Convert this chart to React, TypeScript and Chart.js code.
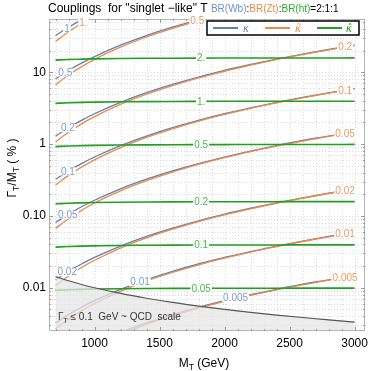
import React, { useEffect, useRef } from 'react';
import { Chart, registerables } from 'chart.js';

Chart.register(...registerables);

const FONT = "'Liberation Sans', Arial, sans-serif";

// ---------------- data ----------------
const masses = [700, 800, 900, 1000, 1200, 1400, 1600, 1800, 2000, 2200, 2400, 2600, 2800, 3000];

// Blue curves: kappa  (Gamma/M in %)
const blueK1 = [32.3, 42.2, 53.5, 66.0];
const blueK05 = [8.09, 10.6, 13.4, 16.5, 23.8, 32.4, 42.3, 53.5, 66.0];
const blueK02 = [1.29, 1.69, 2.14, 2.64, 3.8, 5.18, 6.76, 8.55, 10.6, 12.8, 15.2, 17.8, 20.7, 23.8];
const blueK01 = [0.323, 0.422, 0.535, 0.66, 0.95, 1.29, 1.69, 2.14, 2.64, 3.19, 3.8, 4.46, 5.17, 5.94];
const blueK005 = [0.0809, 0.106, 0.134, 0.165, 0.238, 0.324, 0.423, 0.535, 0.66, 0.799, 0.951, 1.12, 1.29, 1.49];
const blueK002 = [0.0129, 0.0169, 0.0214, 0.0264, 0.038, 0.0518, 0.0676, 0.0855, 0.106, 0.128, 0.152, 0.178, 0.207, 0.238];
const blueK001 = [0.00323, 0.00422, 0.00535, 0.0066, 0.0095, 0.0129, 0.0169, 0.0214, 0.0264, 0.0319, 0.038, 0.0446, 0.0517, 0.0594];
const blueK0005 = [0.000809, 0.00106, 0.00134, 0.00165, 0.00238, 0.00324, 0.00423, 0.00535, 0.0066, 0.00799, 0.00951, 0.0112, 0.0129, 0.0149];

// Orange curves: kappa-tilde
const orangeK1 = [26.8, 36.6, 47.7, 60.3];
const orangeK05 = [6.69, 9.15, 11.9, 15.1, 22.3, 30.9, 40.8, 52.0, 64.6];
const orangeK02 = [1.07, 1.46, 1.91, 2.41, 3.57, 4.94, 6.52, 8.32, 10.3, 12.5, 15.0, 17.6, 20.5, 23.5];
const orangeK01 = [0.268, 0.366, 0.477, 0.603, 0.892, 1.24, 1.63, 2.08, 2.58, 3.14, 3.74, 4.4, 5.12, 5.88];
const orangeK005 = [0.0669, 0.0915, 0.119, 0.151, 0.223, 0.309, 0.408, 0.52, 0.646, 0.784, 0.935, 1.1, 1.28, 1.47];
const orangeK002 = [0.0107, 0.0146, 0.0191, 0.0241, 0.0357, 0.0494, 0.0652, 0.0832, 0.103, 0.125, 0.15, 0.176, 0.205, 0.235];
const orangeK001 = [0.00268, 0.00366, 0.00477, 0.00603, 0.00892, 0.0124, 0.0163, 0.0208, 0.0258, 0.0314, 0.0374, 0.044, 0.0512, 0.0588];
const orangeK0005 = [0.000669, 0.000915, 0.00119, 0.00151, 0.00223, 0.00309, 0.00408, 0.0052, 0.00646, 0.00784, 0.00935, 0.011, 0.0128, 0.0147];

// Green curves: kappa-hat
const greenK2 = [14.73, 15.02, 15.2, 15.34, 15.5, 15.6, 15.66, 15.7, 15.73, 15.75, 15.77, 15.78, 15.79, 15.8];
const greenK1 = [3.683, 3.754, 3.801, 3.834, 3.875, 3.899, 3.915, 3.925, 3.933, 3.938, 3.942, 3.946, 3.948, 3.95];
const greenK05 = [0.921, 0.939, 0.95, 0.959, 0.969, 0.975, 0.979, 0.981, 0.983, 0.985, 0.986, 0.987, 0.987, 0.988];
const greenK02 = [0.1473, 0.1502, 0.152, 0.1534, 0.155, 0.156, 0.1566, 0.157, 0.1573, 0.1575, 0.1577, 0.1578, 0.1579, 0.158];
const greenK01 = [0.0368, 0.0375, 0.038, 0.0383, 0.0388, 0.039, 0.0392, 0.0393, 0.0393, 0.0394, 0.0394, 0.0395, 0.0395, 0.0395];
const greenK005 = [0.00921, 0.00939, 0.0095, 0.00959, 0.00969, 0.00975, 0.00979, 0.00981, 0.00983, 0.00985, 0.00986, 0.00987, 0.00987, 0.00988];

// Gamma_T = 0.1 GeV boundary
const qcdLine = [0.0143, 0.0125, 0.0111, 0.01, 0.00833, 0.00714, 0.00625, 0.00556, 0.005, 0.00455, 0.00417, 0.00385, 0.00357, 0.00333];

const blueSeries = [blueK1, blueK05, blueK02, blueK01, blueK005, blueK002, blueK001, blueK0005];
const orangeSeries = [orangeK1, orangeK05, orangeK02, orangeK01, orangeK005, orangeK002, orangeK001, orangeK0005];
const greenSeries = [greenK2, greenK1, greenK05, greenK02, greenK01, greenK005];

const blueLabels = ['1', '0.5', '0.2', '0.1', '0.05', '0.02', '0.01', '0.005'];
const blueLabelMass = [788, 775, 795, 795, 795, 790, 1350, 2085];
const orangeLabels = ['1.', '0.5', '0.2', '0.1', '0.05', '0.02', '0.01', '0.005'];
const orangeLabelMass = [915, 1790, 2927, 2927, 2927, 2927, 2927, 2927];
const greenLabels = ['2.', '1.', '0.5', '0.2', '0.1', '0.05'];
const greenLabelMass = [1820, 1820, 1820, 1820, 1820, 1820];

const xTickValues = [1000, 1500, 2000, 2500, 3000];
const xTickLabels = ['1000', '1500', '2000', '2500', '3000'];
const yTickValues = [0.01, 0.1, 1, 10];
const yTickLabels = ['0.01', '0.10', '1', '10'];

// ---------------- style ----------------
const BLUE = '#5E81B5';
const ORANGE = '#EC8A48';
const GREEN = '#1FA01F';
const BLUE_TXT = '#7A9DD0';
const ORANGE_TXT = '#F0995E';
const GREEN_TXT = '#4DB84D';

function interpLog(series: number[], m: number): number {
  for (let i = 0; i < series.length - 1; i++) {
    const m0 = masses[i], m1 = masses[i + 1];
    if (m >= m0 && m <= m1) {
      const t = (m - m0) / (m1 - m0);
      return Math.exp(Math.log(series[i]) * (1 - t) + Math.log(series[i + 1]) * t);
    }
  }
  return series[series.length - 1];
}

type Seg = { t: string; size: number; dy?: number; color?: string; style?: string; family?: string };

function setFont(ctx: CanvasRenderingContext2D, s: Seg) {
  ctx.font = `${s.style || ''} ${s.size}px ${s.family || FONT}`;
}
function richWidth(ctx: CanvasRenderingContext2D, segs: Seg[]) {
  let w = 0;
  for (const s of segs) { setFont(ctx, s); w += ctx.measureText(s.t).width; }
  return w;
}
function drawRich(ctx: CanvasRenderingContext2D, segs: Seg[], x: number, y: number, align: 'left' | 'center' = 'left') {
  let cx = align === 'center' ? x - richWidth(ctx, segs) / 2 : x;
  ctx.textAlign = 'left';
  ctx.textBaseline = 'alphabetic';
  for (const s of segs) {
    setFont(ctx, s);
    ctx.fillStyle = s.color || '#000';
    ctx.fillText(s.t, cx, y + (s.dy || 0));
    cx += ctx.measureText(s.t).width;
  }
}

const decorPlugin = {
  id: 'decor',
  beforeDatasetsDraw(chart: any) {
    const { ctx, chartArea: a, scales } = chart;
    const x = scales.x, y = scales.y;
    ctx.save();
    ctx.strokeStyle = '#dcdcdc';
    ctx.lineWidth = 1;
    ctx.setLineDash([1, 2]);
    for (let m = 700; m <= 3000; m += 100) {
      const px = Math.round(x.getPixelForValue(m)) + 0.5;
      ctx.beginPath(); ctx.moveTo(px, a.top); ctx.lineTo(px, a.bottom); ctx.stroke();
    }
    for (let e = -3; e <= 1; e++) {
      for (let k = 1; k <= 9; k++) {
        const v = k * Math.pow(10, e);
        if (v < 0.0025 || v > 55) continue;
        const py = Math.round(y.getPixelForValue(v)) + 0.5;
        ctx.beginPath(); ctx.moveTo(a.left, py); ctx.lineTo(a.right, py); ctx.stroke();
      }
    }
    ctx.restore();
  },
  afterDatasetsDraw(chart: any) {
    const { ctx, chartArea: a, scales } = chart;
    const x = scales.x, y = scales.y;
    ctx.save();

    // frame
    ctx.setLineDash([]);
    ctx.strokeStyle = '#b4b4b4';
    ctx.lineWidth = 1;
    ctx.strokeRect(a.left + 0.5, a.top + 0.5, a.right - a.left - 1, a.bottom - a.top - 1);
    // ticks
    ctx.strokeStyle = '#9a9a9a';
    for (let m = 700; m <= 3000; m += 100) {
      const px = Math.round(x.getPixelForValue(m)) + 0.5;
      const len = m % 500 === 0 ? 4 : 2;
      ctx.beginPath(); ctx.moveTo(px, a.bottom); ctx.lineTo(px, a.bottom - len); ctx.stroke();
      ctx.beginPath(); ctx.moveTo(px, a.top); ctx.lineTo(px, a.top + len); ctx.stroke();
    }
    for (let e = -3; e <= 1; e++) {
      for (let k = 1; k <= 9; k++) {
        const v = k * Math.pow(10, e);
        if (v < 0.0025 || v > 55) continue;
        const py = Math.round(y.getPixelForValue(v)) + 0.5;
        const len = k === 1 ? 4 : 2;
        ctx.beginPath(); ctx.moveTo(a.left, py); ctx.lineTo(a.left + len, py); ctx.stroke();
        ctx.beginPath(); ctx.moveTo(a.right, py); ctx.lineTo(a.right - len, py); ctx.stroke();
      }
    }

    // curve labels
    const drawLabel = (txt: string, m: number, v: number, color: string) => {
      const px = x.getPixelForValue(m);
      const py = y.getPixelForValue(v);
      ctx.font = `10px ${FONT}`;
      const w = ctx.measureText(txt).width;
      ctx.fillStyle = '#fff';
      ctx.fillRect(px - w / 2 - 1, py - 4, w + 2, 8);
      ctx.fillStyle = color;
      ctx.textAlign = 'center';
      ctx.textBaseline = 'middle';
      ctx.fillText(txt, px, py + 0.5);
    };
    blueLabels.forEach((t, i) => drawLabel(t, blueLabelMass[i], interpLog(blueSeries[i], blueLabelMass[i]), BLUE_TXT));
    orangeLabels.forEach((t, i) => drawLabel(t, orangeLabelMass[i], interpLog(orangeSeries[i], orangeLabelMass[i]), ORANGE_TXT));
    greenLabels.forEach((t, i) => drawLabel(t, greenLabelMass[i], interpLog(greenSeries[i], greenLabelMass[i]), GREEN_TXT));

    // shaded region label
    drawRich(ctx, [
      { t: 'Γ', size: 10, color: '#333' },
      { t: 'T', size: 7, dy: 2.5, color: '#333' },
      { t: ' ≤ 0.1  GeV ~ QCD  scale', size: 10, color: '#333' },
    ], 58, 320);

    // legend
    ctx.fillStyle = '#fff';
    ctx.fillRect(207, 21, 152, 14);
    ctx.strokeStyle = '#000';
    ctx.lineWidth = 1.5;
    ctx.strokeRect(207, 21, 152, 14);
    const legendItems = [
      { c: BLUE, x0: 213, sym: 'κ', sx: 243 },
      { c: ORANGE, x0: 265, sym: 'κ\u0303', sx: 295 },
      { c: GREEN, x0: 317, sym: 'κ\u0302', sx: 346 },
    ];
    for (const it of legendItems) {
      ctx.strokeStyle = it.c;
      ctx.lineWidth = 2;
      ctx.beginPath(); ctx.moveTo(it.x0, 28); ctx.lineTo(it.x0 + 25, 28); ctx.stroke();
      ctx.fillStyle = it.c;
      ctx.font = `italic 10px 'DejaVu Sans'`;
      ctx.textAlign = 'left';
      ctx.textBaseline = 'alphabetic';
      ctx.fillText(it.sym, it.sx, 31.5);
    }

    // title
    const tSegs: Seg[] = [
      { t: 'Couplings  for "singlet −like" T ', size: 12 },
      { t: 'BR(Wb)', size: 10, color: '#6F93CC' },
      { t: ':', size: 10 },
      { t: 'BR(Zt)', size: 10, color: '#EE8A48' },
      { t: ':', size: 10 },
      { t: 'BR(ht)', size: 10, color: '#33AA33' },
      { t: '=2:1:1', size: 10 },
    ];
    drawRich(ctx, tSegs, 48, 12);

    // x title
    drawRich(ctx, [
      { t: 'M', size: 12 },
      { t: 'T', size: 8.5, dy: 3 },
      { t: ' (GeV)', size: 12 },
    ], 204, 367, 'center');

    // y title
    ctx.translate(16, 168);
    ctx.rotate(-Math.PI / 2);
    drawRich(ctx, [
      { t: 'Γ', size: 12 },
      { t: 'T', size: 8.5, dy: 3 },
      { t: '/M', size: 12 },
      { t: 'T', size: 8.5, dy: 3 },
      { t: ' ( % )', size: 12 },
    ], 0, 0, 'center');

    ctx.restore();
  },
};

function mkLine(ys: number[], color: string, width: number) {
  return {
    data: ys.map((v, i) => ({ x: masses[i], y: v })),
    borderColor: color,
    backgroundColor: color,
    borderWidth: width,
    pointRadius: 0,
    fill: false,
    cubicInterpolationMode: 'monotone',
  };
}

export default function App() {
  const ref = useRef<HTMLCanvasElement | null>(null);
  useEffect(() => {
    if (!ref.current) return;
    const shade = {
      data: qcdLine.map((v, i) => ({ x: masses[i], y: v })),
      borderColor: '#555',
      borderWidth: 1.2,
      backgroundColor: 'rgba(230,230,230,0.75)',
      pointRadius: 0,
      fill: 'start',
      cubicInterpolationMode: 'monotone',
    };
    const datasets: any[] = [
      shade,
      ...greenSeries.map((s) => mkLine(s, GREEN, 1.6)),
      ...orangeSeries.map((s) => mkLine(s, ORANGE, 1.3)),
      ...blueSeries.map((s) => mkLine(s, BLUE, 1.3)),
    ];
    const chart = new Chart(ref.current, {
      type: 'line',
      data: { datasets },
      options: {
        responsive: false,
        devicePixelRatio: 1,
        animation: false,
        events: [],
        layout: { padding: { top: 19, right: 9, left: 0, bottom: 0 } },
        plugins: { legend: { display: false }, title: { display: false }, tooltip: { enabled: false } },
        scales: {
          x: {
            type: 'linear',
            min: 650,
            max: 3080,
            grid: { display: false, drawTicks: false },
            border: { display: false },
            afterBuildTicks: (s: any) => { s.ticks = xTickValues.map((v) => ({ value: v })); },
            afterFit: (s: any) => { s.height = 40; },
            ticks: {
              autoSkip: false,
              maxRotation: 0,
              padding: 5,
              color: '#000',
              font: { family: FONT, size: 12 },
              callback: (_v: any, i: number) => xTickLabels[i],
            },
          },
          y: {
            type: 'logarithmic',
            min: 0.0025,
            max: 55,
            grid: { display: false, drawTicks: false },
            border: { display: false },
            afterBuildTicks: (s: any) => { s.ticks = yTickValues.map((v) => ({ value: v })); },
            afterFit: (s: any) => { s.width = 49; },
            ticks: {
              autoSkip: false,
              padding: 3,
              color: '#000',
              font: { family: FONT, size: 12 },
              callback: (_v: any, i: number) => yTickLabels[i],
            },
          },
        },
      } as any,
      plugins: [decorPlugin],
    });
    return () => chart.destroy();
  }, []);
  return (
    <div style={{ position: 'fixed', left: 0, top: 0, width: 374, height: 371, background: '#fff' }}>
      <canvas ref={ref} width={374} height={371} style={{ display: 'block' }} />
    </div>
  );
}
